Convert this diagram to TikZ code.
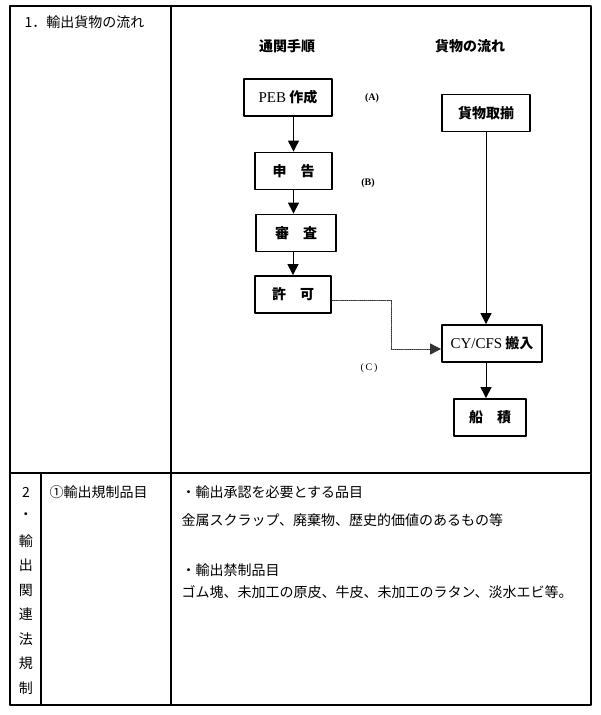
\documentclass[tikz,border=0pt]{standalone}
\usepackage{fontspec}
\setmainfont{Noto Sans CJK JP}
\newfontfamily\latin{Liberation Serif}
\usetikzlibrary{arrows.meta}
\tikzset{
  every picture/.style={line join=round, line cap=round, >=Stealth},
  jp/.style={font=\fontsize{14}{17}\selectfont},
  box/.style={draw, line width=1.8pt, inner sep=0pt, minimum height=37pt, font=\fontsize{14}{17}\selectfont\bfseries},
  flow/.style={-{Triangle[width=11pt,length=11pt]}, line width=1pt},
  dots/.style={-{Triangle[width=11pt,length=11pt]}, line width=0.9pt, densely dotted, draw=black!80},
  caselabel/.style={font=\latin\fontsize{10}{12}\selectfont\bfseries},
  rule/.style={line width=1.2pt},
}
\newcommand\rom[1]{{\latin\mdseries\fontsize{15}{17}\selectfont #1}}

\begin{document}
\begin{tikzpicture}[x=1pt,y=-1pt]
\useasboundingbox (0,0) rectangle (600,715);
\draw[line width=1.5pt] (10,6) rectangle (591,705);
\draw[rule] (10,473) -- (591,473);
\draw[rule] (171,6) -- (171,705);
\draw[rule] (41,473) -- (41,705);

\node[jp,anchor=west] (title1) at (21,22) {1．輸出貨物の流れ};
\node[jp,font=\fontsize{14}{17}\selectfont\bfseries] (hdcustoms) at (287,46) {通関手順};
\node[jp,font=\fontsize{14}{17}\selectfont\bfseries] (hdcargo) at (470,46) {貨物の流れ};

\node[box,minimum width=88pt] (peb) at (288,97.5) {\rom{PEB} 作成};
\node[box,minimum width=77pt] (shinkoku) at (293.5,171) {申　告};
\node[box,minimum width=80pt] (shinsa) at (296,233) {審　査};
\node[box,minimum width=76pt] (kyoka) at (293,294.5) {許　可};
\node[box,minimum width=88pt] (soroe) at (486,113) {貨物取揃};
\node[box,minimum width=100pt] (hannyu) at (492,343.5) {\rom{CY/CFS} 搬入};
\node[box,minimum width=72pt] (funazumi) at (490,417.5) {船　積};

\node[caselabel] (la) at (372,98) {(A)};
\node[caselabel] (lb) at (368,183) {(B)};
\node[caselabel,font=\latin\fontsize{10}{12}\selectfont] (lc) at (369,368) {(\,C\,)};

\draw[flow] (peb.south -| shinkoku) -- (shinkoku.north);
\draw[flow] (shinkoku.south) -- (shinkoku.south |- shinsa.north);
\draw[flow] (shinsa.south -| kyoka) -- (kyoka.north);
\draw[flow] (soroe.south) -- (soroe.south |- hannyu.north);
\draw[flow] (hannyu.south -| soroe) -- (funazumi.north -| soroe);
\draw[dots] ([yshift=-5.5pt]kyoka.east) -- ++(60,0) |- ([yshift=-5.5pt]hannyu.west);

\foreach \ch [count=\i from 0] in {2,・,輸,出,関,連,法,規,制}
  \node[jp] (side\i) at (26,492+24.5*\i) {\ch};
\node[jp,anchor=west] (item1) at (46,492) {①輸出規制品目};
\node[jp,anchor=west] (req) at (178,492) {・輸出承認を必要とする品目};
\node[jp,anchor=west] (reqlist) at (178,520) {金属スクラップ、廃棄物、歴史的価値のあるもの等};
\node[jp,anchor=west] (ban) at (178,570) {・輸出禁制品目};
\node[jp,anchor=west] (banlist) at (178,592) {ゴム塊、未加工の原皮、牛皮、未加工のラタン、淡水エビ等。};
\end{tikzpicture}
\end{document}
